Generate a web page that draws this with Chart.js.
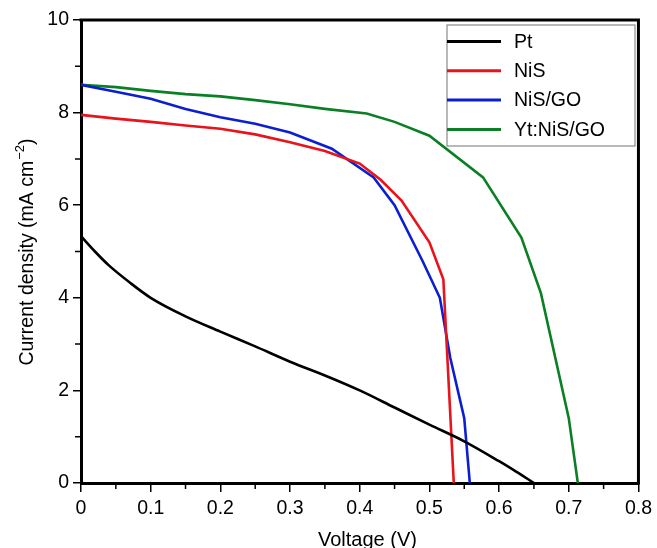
<!DOCTYPE html>
<html>
<head>
<meta charset="utf-8">
<script src="https://cdn.jsdelivr.net/npm/chart.js@4/dist/chart.umd.min.js"></script>
<style>
    html, body { margin: 0; padding: 0; background: #fff; overflow: hidden; }
    #wrap { width: 657px; height: 548px; }
</style>
</head>
<body>
<div id="wrap"><canvas id="ivChart" width="657" height="548"></canvas></div>
<script>
// J-V curves of the counter electrodes
const seriesNames = ['Pt', 'NiS', 'NiS/GO', 'Yt:NiS/GO'];
const seriesColors = ['#000000', '#e8131b', '#0b1fd0', '#0a7f24'];

const voltagePt = [0, 0.02, 0.04, 0.07, 0.1, 0.15, 0.2, 0.25, 0.3, 0.357, 0.4, 0.45, 0.5, 0.55, 0.6, 0.625, 0.65];
const currentPt = [5.33, 5.0, 4.7, 4.33, 4.0, 3.6, 3.27, 2.95, 2.62, 2.28, 2.0, 1.63, 1.26, 0.9, 0.47, 0.24, 0];

const voltageNiS = [0, 0.05, 0.1, 0.15, 0.2, 0.25, 0.3, 0.35, 0.40, 0.43, 0.46, 0.50, 0.52, 0.535];
const currentNiS = [7.95, 7.87, 7.8, 7.72, 7.65, 7.53, 7.36, 7.17, 6.9, 6.55, 6.1, 5.2, 4.4, 0];

const voltageNiSGO = [0, 0.05, 0.1, 0.15, 0.2, 0.25, 0.3, 0.36, 0.42, 0.45, 0.49, 0.515, 0.53, 0.55, 0.558];
const currentNiSGO = [8.6, 8.45, 8.3, 8.08, 7.9, 7.76, 7.57, 7.22, 6.6, 6.0, 4.8, 4.0, 2.7, 1.4, 0];

const voltageYt = [0, 0.05, 0.1, 0.15, 0.2, 0.25, 0.3, 0.35, 0.41, 0.45, 0.5, 0.577, 0.632, 0.66, 0.70, 0.713];
const currentYt = [8.6, 8.55, 8.47, 8.4, 8.35, 8.27, 8.18, 8.08, 7.98, 7.8, 7.5, 6.6, 5.3, 4.1, 1.4, 0];

const xTicks = [0, 0.1, 0.2, 0.3, 0.4, 0.5, 0.6, 0.7, 0.8];
const yTicks = [0, 2, 4, 6, 8, 10];

const FONT = 'Liberation Sans, Arial, Helvetica, sans-serif';

function toPoints(xs, ys) {
    return xs.map((x, i) => ({ x: x, y: ys[i] }));
}

const curves = [
    toPoints(voltagePt, currentPt),
    toPoints(voltageNiS, currentNiS),
    toPoints(voltageNiSGO, currentNiSGO),
    toPoints(voltageYt, currentYt)
];

// frame, minor ticks, axis titles and the boxed legend
const decorPlugin = {
    id: 'decor',
    afterDraw(chart) {
        let ctx = chart.ctx;
        let a = chart.chartArea;
        let xs = chart.scales.x;
        let ys = chart.scales.y;

        ctx.save();
        ctx.strokeStyle = '#000';
        ctx.lineWidth = 3;
        ctx.beginPath();
        ctx.moveTo(a.left - 1.5, a.top);
        ctx.lineTo(a.right, a.top);
        ctx.lineTo(a.right, a.bottom + 1.5);
        ctx.stroke();

        // minor ticks
        ctx.lineWidth = 1.5;
        ctx.beginPath();
        for (let i = 0; i < xTicks.length - 1; i++) {
            let px = xs.getPixelForValue(xTicks[i] + 0.05);
            ctx.moveTo(px, a.bottom);
            ctx.lineTo(px, a.bottom + 6);
        }
        for (let i = 0; i < yTicks.length - 1; i++) {
            let py = ys.getPixelForValue(yTicks[i] + 1);
            ctx.moveTo(a.left, py);
            ctx.lineTo(a.left - 6, py);
        }
        ctx.stroke();

        // axis titles
        ctx.fillStyle = '#000';
        ctx.font = '20px ' + FONT;
        ctx.textBaseline = 'alphabetic';
        ctx.textAlign = 'left';
        ctx.fillText('Voltage (V)', 318, 546);

        let main = 'Current density (mA cm';
        let sup = '\u22122';
        let close = ')';
        ctx.font = '19.5px ' + FONT;
        let wMain = ctx.measureText(main).width;
        let wClose = ctx.measureText(close).width;
        ctx.font = '13px ' + FONT;
        let wSup = ctx.measureText(sup).width;
        let total = wMain + wSup + wClose + 1;
        ctx.translate(33, 252);
        ctx.rotate(-Math.PI / 2);
        let sx = -total / 2;
        ctx.font = '19.5px ' + FONT;
        ctx.fillText(main, sx, 0);
        ctx.font = '13px ' + FONT;
        ctx.fillText(sup, sx + wMain + 1, -9);
        ctx.font = '19.5px ' + FONT;
        ctx.fillText(close, sx + wMain + wSup + 1, 0);
        ctx.setTransform(1, 0, 0, 1, 0, 0);

        // legend
        ctx.fillStyle = '#fff';
        ctx.fillRect(447, 25, 188, 121);
        ctx.strokeStyle = '#8a8a8a';
        ctx.lineWidth = 1.2;
        ctx.strokeRect(447, 25, 188, 121);
        ctx.font = '19.5px ' + FONT;
        ctx.textBaseline = 'middle';
        chart.data.datasets.forEach(function(ds, i) {
            let y = 41.5 + i * 29.3;
            ctx.strokeStyle = ds.borderColor;
            ctx.lineWidth = 3;
            ctx.beginPath();
            ctx.moveTo(447, y);
            ctx.lineTo(501, y);
            ctx.stroke();
            ctx.fillStyle = '#000';
            ctx.fillText(ds.label, 514, y + 1);
        });
        ctx.restore();
    }
};

let ctx = document.getElementById('ivChart').getContext('2d');

new Chart(ctx, {
    type: 'scatter',
    data: {
        datasets: curves.map(function(pts, i) {
            return {
                label: seriesNames[i],
                data: pts,
                showLine: true,
                borderColor: seriesColors[i],
                backgroundColor: seriesColors[i],
                borderWidth: 2.6,
                pointRadius: 0,
                tension: 0,
                cubicInterpolationMode: i === 0 ? 'monotone' : 'default'
            };
        })
    },
    plugins: [decorPlugin],
    options: {
        responsive: false,
        animation: false,
        layout: { padding: { top: 20, right: 18, left: 0, bottom: 0 } },
        plugins: {
            legend: { display: false },
            tooltip: { enabled: false }
        },
        scales: {
            x: {
                type: 'linear',
                min: 0,
                max: 0.8,
                afterFit: function(s) { s.height = 65; },
                afterBuildTicks: function(s) { s.ticks = xTicks.map(v => ({ value: v })); },
                ticks: {
                    color: '#000',
                    font: { family: FONT, size: 19.5 },
                    padding: 5,
                    maxRotation: 0,
                    callback: v => v === 0 ? '0' : v.toFixed(1)
                },
                grid: { drawOnChartArea: false, drawTicks: true, tickLength: 9, color: '#000', lineWidth: 1.5 },
                border: { display: true, color: '#000', width: 3 }
            },
            y: {
                type: 'linear',
                min: 0,
                max: 10,
                afterFit: function(s) { s.width = 81; },
                afterBuildTicks: function(s) { s.ticks = yTicks.map(v => ({ value: v })); },
                ticks: {
                    color: '#000',
                    font: { family: FONT, size: 19.5 },
                    padding: 4,
                    callback: v => String(v)
                },
                grid: { drawOnChartArea: false, drawTicks: true, tickLength: 8, color: '#000', lineWidth: 1.5 },
                border: { display: true, color: '#000', width: 3 }
            }
        }
    }
});
</script>
</body>
</html>
